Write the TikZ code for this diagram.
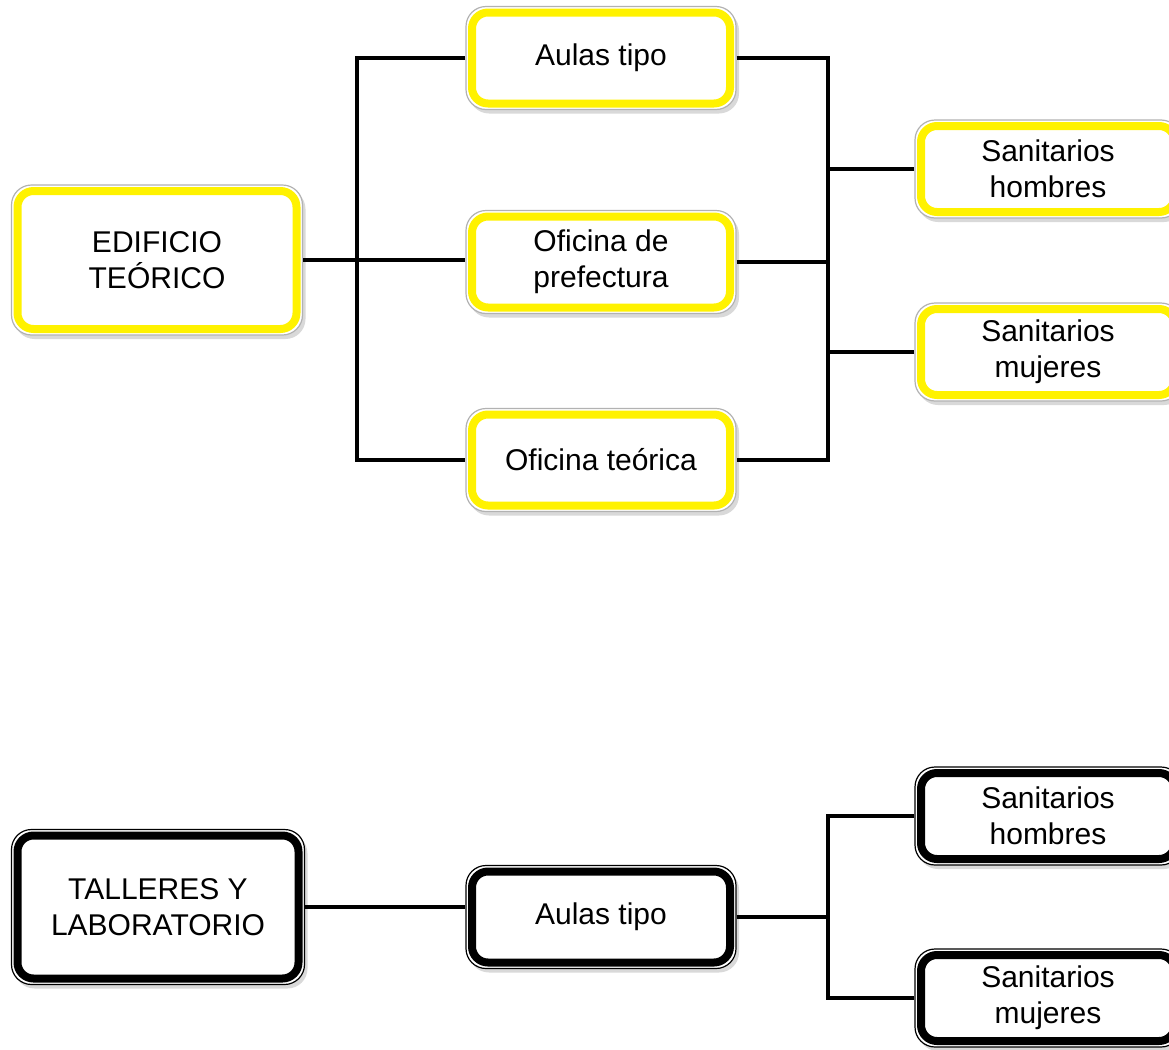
\documentclass[tikz,border=0pt]{standalone}
\usepackage{fontspec}
\setmainfont{Liberation Sans}
\usetikzlibrary{shadows}

\newcommand{\letracaja}{\fontsize{15}{18}\selectfont}

\tikzset{
  caja/.style n args={2}{rectangle, rounded corners=10pt, draw=#1, line width=0.6pt,
    fill=white, align=center, font=\letracaja,
    drop shadow={shadow xshift=1.5pt, shadow yshift=-2pt, opacity=.3, fill=black!50},
    path picture={\draw[#2, line width=4pt, rounded corners=8pt]
      ([shift={(3pt,3pt)}]path picture bounding box.south west) rectangle
      ([shift={(-3pt,-3pt)}]path picture bounding box.north east);}},
  amarilla/.style={caja={black!30}{yellow}},
  negra/.style={caja={black}{black}},
  grande/.style={minimum width=145.5pt, minimum height=75pt},
  media/.style={minimum width=135pt, minimum height=51.5pt},
  chica/.style={minimum width=133pt, minimum height=49pt},
  enlace/.style={line width=2.2pt},
}

\begin{document}
\begin{tikzpicture}[x=0.5pt,y=-0.5pt]
\useasboundingbox (0,0) rectangle (1169,1050);

\node[amarilla, grande] (edificio) at (157,260) {EDIFICIO\\TEÓRICO};
\node[amarilla, media] (aulas) at (601,58) {Aulas tipo};
\node[amarilla, media] (ofpref) at (601,262) {Oficina de\\prefectura};
\node[amarilla, media] (oft) at (601,460) {Oficina teórica};
\node[amarilla, chica] (sh) at (1048,169) {Sanitarios\\hombres};
\node[amarilla, chica] (sm) at (1048,352) {Sanitarios\\mujeres};

\coordinate (lbus) at (357,260);
\coordinate (rbus) at (828,260);
\draw[enlace] (edificio.east) -- (edificio.east -| ofpref.west);
\draw[enlace] (aulas.west) -| (lbus) |- (oft.west);
\draw[enlace] (aulas.east) -| (rbus) |- (oft.east);
\draw[enlace] (ofpref.east) -- (ofpref.east -| rbus);
\draw[enlace] (sh.west) -- (sh.west -| rbus);
\draw[enlace] (sm.west) -- (sm.west -| rbus);

\node[negra, grande, minimum width=146.5pt, minimum height=77.5pt] (talleres) at (158,907) {TALLERES Y\\LABORATORIO};
\node[negra, media] (aulas2) at (601,917) {Aulas tipo};
\node[negra, chica] (sh2) at (1048,816) {Sanitarios\\hombres};
\node[negra, chica] (sm2) at (1048,998) {Sanitarios\\mujeres};

\coordinate (rbus2) at (828,910);
\draw[enlace] (talleres.east) -- (talleres.east -| aulas2.west);
\draw[enlace] (aulas2.east) -- (aulas2.east -| rbus2);
\draw[enlace] (sh2.west) -| (rbus2) |- (sm2.west);
\end{tikzpicture}
\end{document}
